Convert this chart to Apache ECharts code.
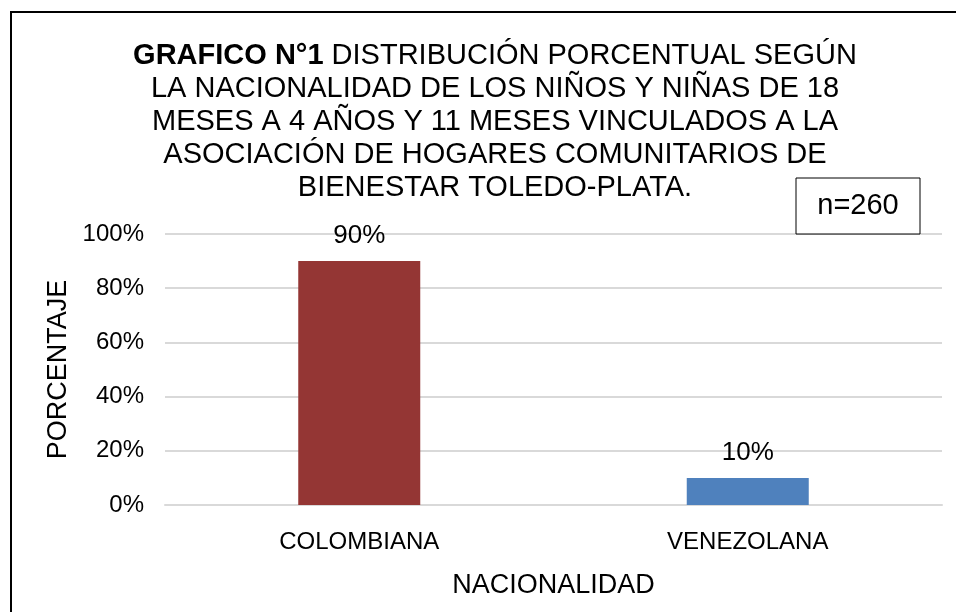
<!DOCTYPE html>
<html>
<head>
<meta charset="utf-8">
<script src="https://cdn.jsdelivr.net/npm/echarts@6/dist/echarts.min.js"></script>
<style>
  html, body { margin: 0; padding: 0; background: #fff; }
  #chart { width: 956px; height: 612px; }
</style>
</head>
<body>
<div id="chart"></div>
<script>
const categories = ['COLOMBIANA', 'VENEZOLANA']
const values = [90, 10]
const barColors = ['#943634', '#4f81bd']
const yTicks = [0, 20, 40, 60, 80, 100]

const titleLines = [
  '{b|GRAFICO N°1} DISTRIBUCIÓN PORCENTUAL SEGÚN',
  'LA NACIONALIDAD DE LOS NIÑOS Y NIÑAS DE 18',
  'MESES A 4 AÑOS Y 11 MESES VINCULADOS A LA',
  'ASOCIACIÓN DE HOGARES COMUNITARIOS DE',
  'BIENESTAR TOLEDO-PLATA.',
]

const font = '"Liberation Sans", Arial, sans-serif'
const chart = echarts.init(document.getElementById('chart'))

chart.setOption({
  animation: false,
  textStyle: { fontFamily: font },
  title: {
    text: titleLines.join('\n'),
    left: 490,
    top: 34,
    textAlign: 'center',
    textStyle: {
      fontFamily: font,
      fontSize: 29,
      fontWeight: 'normal',
      color: '#000',
      lineHeight: 33,
      rich: {
        b: { fontFamily: font, fontSize: 29, fontWeight: 'bold', color: '#000', lineHeight: 33 },
      },
    },
  },
  graphic: [
    {
      type: 'rect',
      shape: { x: 11, y: 12, width: 1000, height: 700 },
      style: { fill: 'none', stroke: '#000', lineWidth: 2 },
      z: -1,
    },
    {
      type: 'rect',
      shape: { x: 796, y: 178, width: 124, height: 56 },
      style: { fill: '#fff', stroke: '#000', lineWidth: 1 },
      z: 10,
    },
    {
      type: 'text',
      x: 858,
      y: 206,
      style: {
        text: 'n=260',
        font: '29px ' + font,
        fill: '#000',
        textAlign: 'center',
        textVerticalAlign: 'middle',
      },
      z: 11,
    },
  ],
  grid: { left: 165, right: 14, top: 234, bottom: 107 },
  xAxis: {
    type: 'category',
    data: categories,
    name: 'NACIONALIDAD',
    nameLocation: 'middle',
    nameGap: 67,
    nameTextStyle: { fontSize: 27, color: '#000', fontFamily: font },
    axisLine: { lineStyle: { color: '#d9d9d9', width: 2 } },
    axisTick: { show: false },
    axisLabel: { fontSize: 24, color: '#000', margin: 25, fontFamily: font },
  },
  yAxis: {
    type: 'value',
    min: 0,
    max: 100,
    interval: 20,
    name: 'PORCENTAJE',
    nameLocation: 'middle',
    nameGap: 92,
    nameTextStyle: { fontSize: 27, color: '#000', fontFamily: font },
    axisLine: { show: false },
    axisTick: { show: false },
    splitLine: { lineStyle: { color: '#d9d9d9', width: 2 } },
    axisLabel: {
      fontSize: 24,
      color: '#000',
      margin: 21,
      fontFamily: font,
      formatter: (v) => (yTicks.includes(v) ? v + '%' : ''),
    },
  },
  series: [
    {
      type: 'bar',
      barWidth: 122,
      data: values.map((v, i) => ({ value: v, itemStyle: { color: barColors[i] } })),
      label: {
        show: true,
        position: 'top',
        distance: 12,
        fontSize: 26,
        color: '#000',
        fontFamily: font,
        formatter: '{c}%',
      },
    },
  ],
})
</script>
</body>
</html>
